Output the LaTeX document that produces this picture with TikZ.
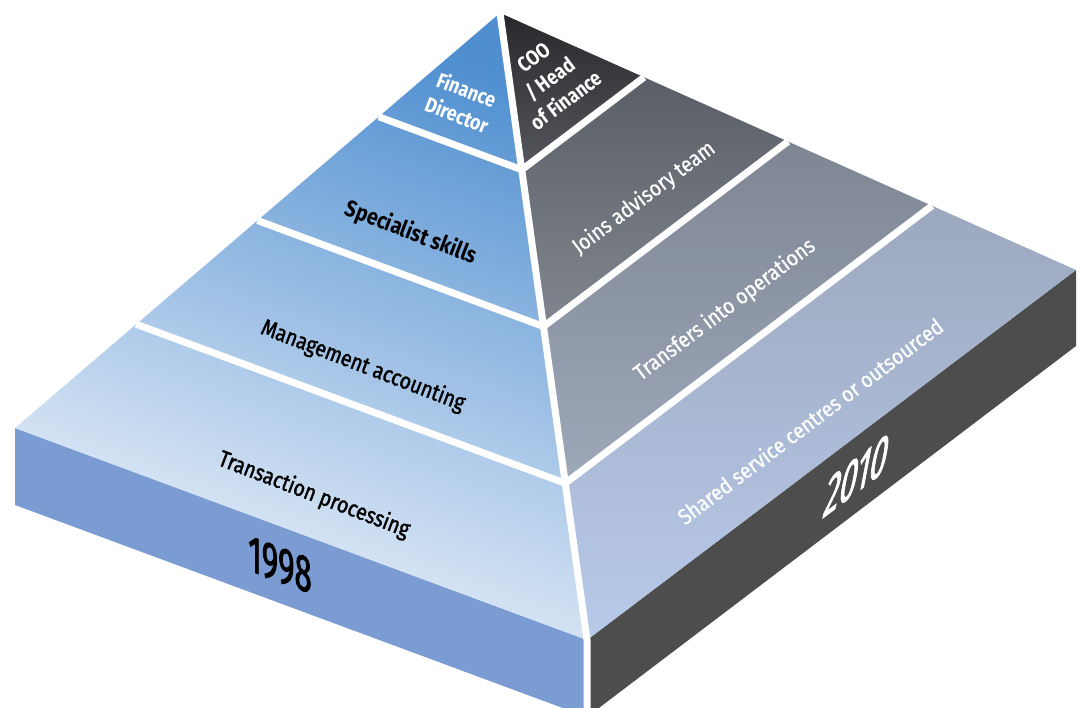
\documentclass[tikz,border=0pt]{standalone}
\usepackage{fontspec}
\setmainfont{Fira Sans}[FakeStretch=0.85]
\newfontfamily\medfont{Fira Sans}[FakeStretch=0.85,FakeBold=1.5]
\newfontfamily\rightfont{Fira Sans}[FakeStretch=0.88,FakeBold=0.6]
\newfontfamily\yearfont{Fira Sans}[FakeStretch=0.6,FakeBold=1.5]
\newfontfamily\yearfontit{Fira Sans}[FakeStretch=0.6,FakeSlant=0.22,FakeBold=1.5]
\usetikzlibrary{calc}
\definecolor{bTop}{HTML}{4F8FD0}
\definecolor{bMid}{HTML}{A3BFE3}
\definecolor{bBot}{HTML}{F0F4FB}
\definecolor{g1t}{HTML}{28282B}
\definecolor{g1b}{HTML}{56585E}
\definecolor{g2t}{HTML}{5A5E66}
\definecolor{g2b}{HTML}{80868F}
\definecolor{g3t}{HTML}{7E8694}
\definecolor{g3b}{HTML}{9EA8B9}
\definecolor{g4t}{HTML}{9CA8BE}
\definecolor{g4b}{HTML}{B8CAEA}
\definecolor{slabL}{HTML}{7B9CD2}
\definecolor{slabR}{HTML}{4D4D4D}
\tikzset{
  sepline/.style={white, line width=7pt},
  blk/.style={black, inner sep=0pt, font=\medfont\fontsize{23}{25}\selectfont},
  blkb/.style={black, inner sep=0pt, font=\bfseries\fontsize{23}{25}\selectfont},
  wht/.style={white, inner sep=0pt, font=\rightfont\fontsize{22}{24}\selectfont},
  whtb/.style={white, inner sep=0pt, align=center, font=\bfseries\fontsize{21}{27}\selectfont},
  yearlbl/.style={inner sep=0pt, font=\yearfont\fontsize{52}{54}\selectfont},
  yearlblit/.style={inner sep=0pt, font=\yearfontit\fontsize{52}{54}\selectfont},
  rband/.style={shading angle=37},
}
\begin{document}
\begin{tikzpicture}[x=1pt,y=-1pt]
\useasboundingbox (0,0) rectangle (1084,708);
\coordinate (A) at (500,13);
\coordinate (L) at (15,428);
\coordinate (F) at (587,640);
\coordinate (R) at (1076,270);
\coordinate (Ld) at (15,505);
\coordinate (Fd) at (587,717);
\coordinate (Rd) at (1076,346);
\coordinate (Atop) at ($(A)!-0.03!(F)$);
\foreach \t/\n in {0.25/1,0.5/2,0.75/3} {
  \coordinate (L\n) at ($(A)!\t!(L)$);
  \coordinate (F\n) at ($(A)!\t!(F)$);
  \coordinate (R\n) at ($(A)!\t!(R)$);
}
% slabs
\fill[slabL] (L) -- (F) -- (Fd) -- (Ld) -- cycle;
\fill[slabR] (F) -- (R) -- (Rd) -- (Fd) -- cycle;
% left face
\shade[top color=bTop, middle color=bMid, bottom color=bBot, shading angle=-20] (A) -- (L) -- (F) -- cycle;
% right face bands
\shade[rband, top color=g1t, bottom color=g1b] (A) -- (F1) -- (R1) -- cycle;
\shade[rband, top color=g2t, bottom color=g2b] (R1) -- (F1) -- (F2) -- (R2) -- cycle;
\shade[rband, top color=g3t, bottom color=g3b] (R2) -- (F2) -- (F3) -- (R3) -- cycle;
\shade[rband, top color=g4t, bottom color=g4b] (R3) -- (F3) -- (F) -- (R) -- cycle;
% separators
\foreach \n in {1,2,3} {
  \draw[sepline] (L\n) -- (F\n);
  \draw[sepline] (F\n) -- (R\n);
}
\draw[sepline] (Atop) -- (F) -- (Fd);
% labels left face
\node[whtb, rotate=-21] (fd) at (462,102) {Finance\\Director};
\node[blkb, rotate=-21] (ss) at (411,233) {Specialist skills};
\node[blk, rotate=-21] (ma) at (363,366) {Management accounting};
\node[blk, rotate=-21] (tp) at (314,495) {Transaction processing};
% labels right face
\node[whtb, rotate=37] (coo) at (550,79) {COO\\/ Head\\of Finance};
\node[wht, rotate=37] (ja) at (644,198) {Joins advisory team};
\node[wht, rotate=37] (to) at (725,310) {Transfers into operations};
\node[wht, rotate=37] (sh) at (810,421) {Shared service centres or outsourced};
% years
\node[yearlbl, black, yslant=-0.373] (y1) at (280,565) {1998};
\node[yearlblit, white, yslant=0.758] (y2) at (853,478) {2010};
\end{tikzpicture}
\end{document}
